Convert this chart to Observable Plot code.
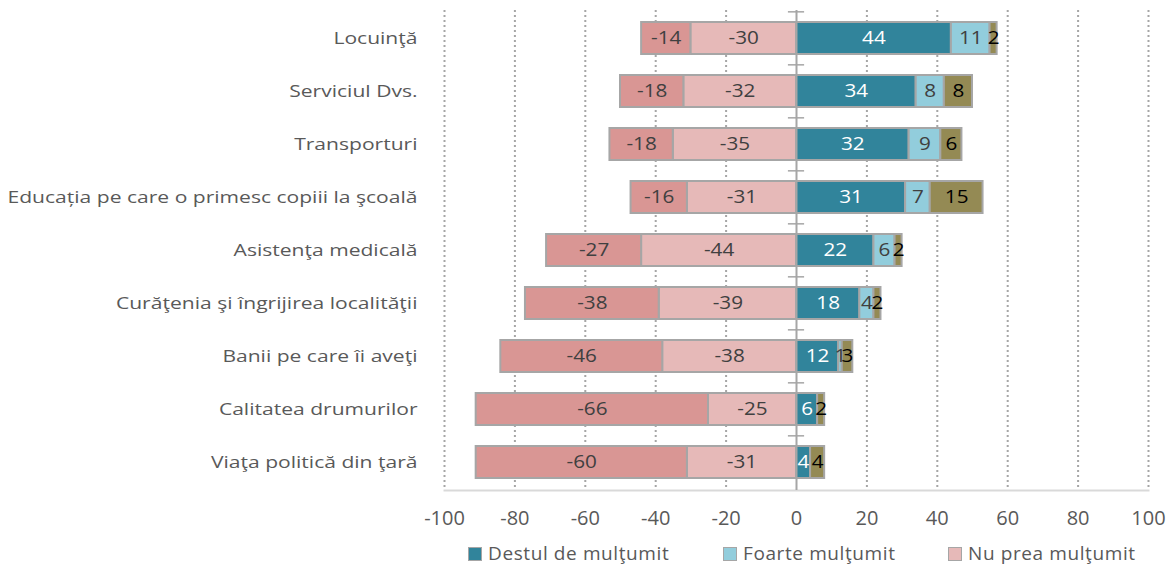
<!DOCTYPE html>
<html><head><meta charset="utf-8">
<script src="https://cdn.jsdelivr.net/npm/d3@7"></script>
<script src="https://cdn.jsdelivr.net/npm/@observablehq/plot@0.6"></script>
<style>
body{margin:0;background:#fff;font-family:"Open Sans",sans-serif;}
#chart{position:relative;width:1167px;height:565px;overflow:hidden;}
#chart svg{position:absolute;left:0;top:0;}
.item{position:absolute;top:543px;height:21px;display:flex;align-items:center;font-size:19px;letter-spacing:0.6px;color:#595959;white-space:nowrap;line-height:21px;}
.sw{width:12px;height:12px;border:1px solid #A6A6A6;margin-right:6px;}
</style></head><body><div id="chart"></div>
<script>
const categories = ["Locuinţă","Serviciul Dvs.","Transporturi","Educația pe care o primesc copiii la şcoală","Asistenţa medicală","Curăţenia şi îngrijirea localităţii","Banii pe care îi aveţi","Calitatea drumurilor","Viaţa politică din ţară"];
const deloc  = [-14,-18,-18,-16,-27,-38,-46,-66,-60];
const nuPrea = [-30,-32,-35,-31,-44,-39,-38,-25,-31];
const destul = [44,34,32,31,22,18,12,6,4];
const foarte = [11,8,9,7,6,4,1,0,0];
const nsnr   = [2,8,6,15,2,2,3,2,4];
const xTicks = [-100,-80,-60,-40,-20,0,20,40,60,80,100];
const seriesNames = ["Nu prea mulţumit","Deloc mulţumit","Destul de mulţumit","Foarte mulţumit","NS/NR"];
const seriesColors = ["#E6B9B8","#D99694","#31849B","#92CDDC","#948A54"];
const labelColors = ["#404040","#404040","#FFFFFF","#404040","#000000"];
const legendNames = ["Destul de mulţumit","Foarte mulţumit","Nu prea mulţumit"];
const legendLeft = [468,723,948];

const seriesValues = [nuPrea, deloc, destul, foarte, nsnr];
const rows = categories.flatMap((c,i)=>seriesNames.map((s,j)=>({cat:c, series:s, value:seriesValues[j][i]})));
const stackOpts = {x:"value", y:"cat", z:"series", order:seriesNames};

const textMarks = [...new Set(labelColors)].map(col =>
  Plot.text(rows, Plot.stackX({...stackOpts,
    text: d => (labelColors[seriesNames.indexOf(d.series)] === col && d.value !== 0) ? String(d.value) : null,
    fill: col, fontSize: 18, className: "barlabel"}))
);

const step = 480/9;
const plot = Plot.plot({
  width:1167, height:540,
  marginLeft:444, marginRight:19, marginTop:10, marginBottom:50,
  style:{fontFamily:"Open Sans", fontSize:"17px", color:"#595959", background:"white"},
  x:{domain:[-100,100], label:null},
  y:{domain:categories, paddingInner:0.4, paddingOuter:0.2, label:null},
  color:{domain:seriesNames, range:seriesColors},
  marks:[
    Plot.ruleX(xTicks.filter(d=>d!==0), {stroke:"#A6A6A6", strokeWidth:2, strokeDasharray:"2,3"}),
    Plot.frame({anchor:"bottom", stroke:"#D9D9D9", strokeWidth:2}),
    Plot.barX(rows, Plot.stackX({...stackOpts, fill:"series", stroke:"#A6A6A6", strokeWidth:2})),
    Plot.ruleX([0], {stroke:"#A6A6A6", strokeWidth:2}),
    Plot.ruleY(categories, {y:d=>d, x1:-2.3, x2:2.3, dy:-step/2, stroke:"#A6A6A6", strokeWidth:1.5}),
    Plot.axisX({ticks:xTicks, tickFormat:d=>String(d), tickSize:0, tickPadding:20, fontSize:20, fill:"#595959"}),
    Plot.axisY({tickSize:0, tickPadding:27, fontSize:17, fill:"#595959", className:"ylab"}),
    ...textMarks
  ]
});
const chart = document.getElementById("chart");
chart.appendChild(plot);

function stretch(texts, k){
  texts.forEach(t=>{
    const x = +(t.getAttribute("x") || 0);
    const tr = t.getAttribute("transform") || "";
    t.setAttribute("transform", `${tr} translate(${x},0) scale(${k},1) translate(${-x},0)`);
  });
}
stretch(plot.querySelectorAll(".ylab text"), 1.24);
stretch(plot.querySelectorAll(".barlabel text"), 1.15);

legendNames.forEach((n,i)=>{
  const it = document.createElement("div");
  it.className = "item";
  it.style.left = legendLeft[i] + "px";
  const sw = document.createElement("span");
  sw.className = "sw";
  sw.style.background = seriesColors[seriesNames.indexOf(n)];
  it.appendChild(sw);
  const t = document.createElement("span");
  t.textContent = n;
  it.appendChild(t);
  chart.appendChild(it);
});
</script></body></html>
